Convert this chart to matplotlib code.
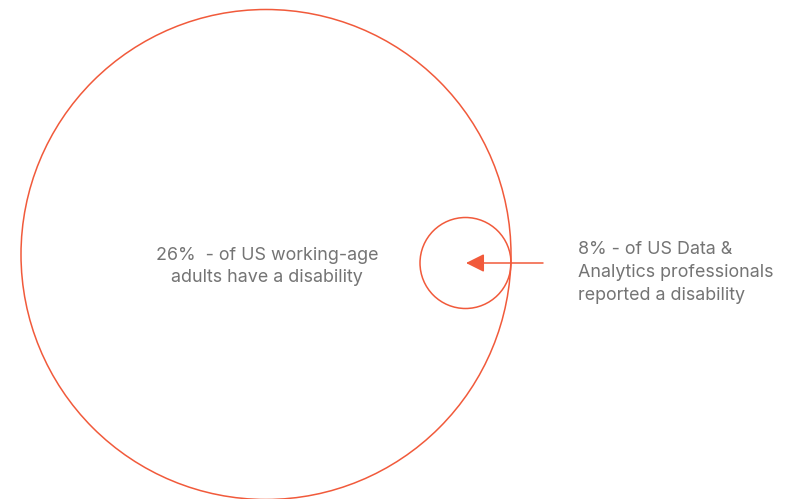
import matplotlib.pyplot as plt
from matplotlib.patches import Circle, FancyArrowPatch

# share of people with a disability
groups = ["US working-age adults", "US Data & Analytics professionals"]
shares = [26, 8]
labels = [
    f"{shares[0]}%  - of US working-age\nadults have a disability",
    f"{shares[1]}% - of US Data &\nAnalytics professionals\nreported a disability",
]

red = "#F15A3B"
grey = "#747474"
plt.rcParams["font.family"] = ["Inter", "DejaVu Sans"]

fig = plt.figure(figsize=(7.96, 4.99), dpi=100)
ax = fig.add_axes([0, 0, 1, 1])
ax.set_xlim(0, 796)
ax.set_ylim(499, 0)
ax.set_aspect("equal")
ax.axis("off")

# big circle for the population, small one tucked inside its right edge
big = Circle((266, 254.5), 245, fill=False, ec=red, lw=1.1)
small = Circle((465.5, 263), 45.5, fill=False, ec=red, lw=1.1)
ax.add_patch(big)
ax.add_patch(small)

arrow = FancyArrowPatch((543, 263), (466, 263), arrowstyle="-|>,head_length=0.8,head_width=0.4",
                        mutation_scale=14, color=red, lw=1.1, shrinkA=0, shrinkB=0)
ax.add_patch(arrow)

ax.text(267, 266.5, labels[0], ha="center", va="center", fontsize=12.9, color=grey,
        linespacing=1.43)
ax.text(578, 272.5, labels[1], ha="left", va="center", fontsize=12.9, color=grey,
        linespacing=1.43)

fig.savefig("out.png", dpi=100)
